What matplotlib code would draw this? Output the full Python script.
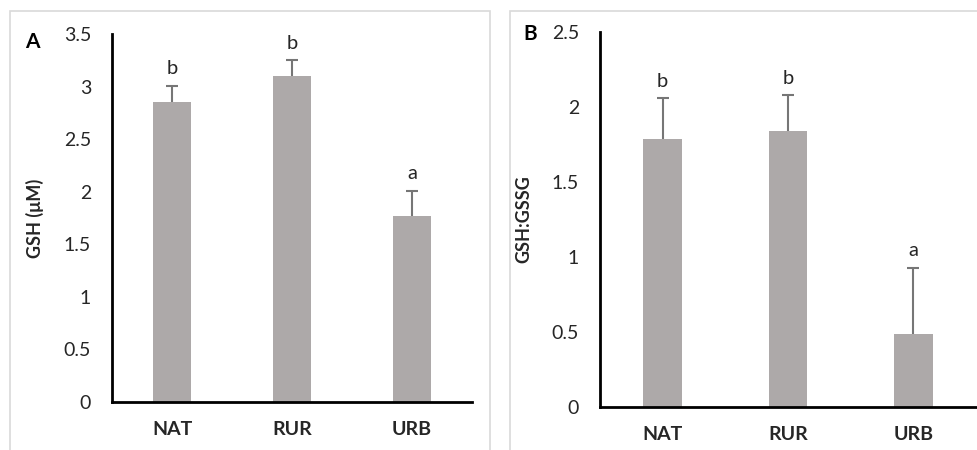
import matplotlib
matplotlib.use("Agg")
import matplotlib.pyplot as plt
from matplotlib.patches import Rectangle

plt.rcParams['font.family'] = ['Lato', 'DejaVu Sans']

sites = ["NAT", "RUR", "URB"]

# panel A - GSH concentration
gsh = [2.85, 3.10, 1.77]
gsh_err = [0.16, 0.15, 0.24]
gsh_letters = ["b", "b", "a"]

# panel B - GSH:GSSG ratio
ratio = [1.79, 1.84, 0.49]
ratio_err = [0.27, 0.24, 0.44]
ratio_letters = ["b", "b", "a"]

bar_color = "#ada9a9"
err_color = "#767676"

fig = plt.figure(figsize=(9.77, 4.5), dpi=100)

# light grey panel frames like the original figure
fig.patches.append(Rectangle((10 / 977, -0.1), 480 / 977, 1.1 - 11 / 450,
                             transform=fig.transFigure, fill=False,
                             edgecolor="#d9d9d9", linewidth=1.2))
fig.patches.append(Rectangle((510 / 977, -0.1), 0.6, 1.1 - 11 / 450,
                             transform=fig.transFigure, fill=False,
                             edgecolor="#d9d9d9", linewidth=1.2))

axA = fig.add_axes([112 / 977, 48 / 450, 360 / 977, 368 / 450])
axB = fig.add_axes([600 / 977, 43 / 450, 376 / 977, 375 / 450])


def draw(ax, vals, errs, letters, ymax, step, ylabel):
    x = list(range(len(sites)))
    tops = [v + e for v, e in zip(vals, errs)]
    ax.bar(x, vals, width=0.31, color=bar_color, zorder=2)
    # upper-only error bars: stem + single cap
    ax.vlines(x, vals, tops, color=err_color, linewidth=1.5, zorder=3)
    ax.plot(x, tops, linestyle="none", marker="_", markersize=9,
            markeredgewidth=1.5, color=err_color, zorder=3)
    for i, (t, lt) in enumerate(zip(tops, letters)):
        ax.annotate(lt, (i, t), xytext=(0, 6), textcoords="offset points",
                    ha="center", va="bottom", fontsize=14.5, color="#262626")
    ax.set_xlim(-0.5, 2.5)
    ax.set_ylim(0, ymax)
    ticks = [k * step for k in range(int(round(ymax / step)) + 1)]
    ax.set_yticks(ticks)
    ax.set_yticklabels(["%g" % t for t in ticks])
    ax.set_xticks(x)
    ax.set_xticklabels(sites, fontweight="bold")
    ax.tick_params(axis="y", length=0, pad=15, labelsize=14, labelcolor="#262626")
    ax.tick_params(axis="x", length=0, pad=14, labelsize=14, labelcolor="#262626")
    for s in ["top", "right"]:
        ax.spines[s].set_visible(False)
    for s in ["left", "bottom"]:
        ax.spines[s].set_linewidth(2)
        ax.spines[s].set_color("black")
    ax.set_ylabel(ylabel, fontsize=13, fontweight="bold", color="#262626")


draw(axA, gsh, gsh_err, gsh_letters, 3.5, 0.5, "GSH (\u03bcM)")
draw(axB, ratio, ratio_err, ratio_letters, 2.5, 0.5, "GSH:GSSG")

axA.yaxis.set_label_coords(-0.19, 0.5)
axB.yaxis.set_label_coords(-0.18, 0.5)

fig.text(32 / 977, 1 - 42 / 450, "A", fontsize=15, fontweight="bold",
         ha="center", va="center")
fig.text(530 / 977, 1 - 34 / 450, "B", fontsize=15, fontweight="bold",
         ha="center", va="center")

fig.savefig("out.png", dpi=100)
